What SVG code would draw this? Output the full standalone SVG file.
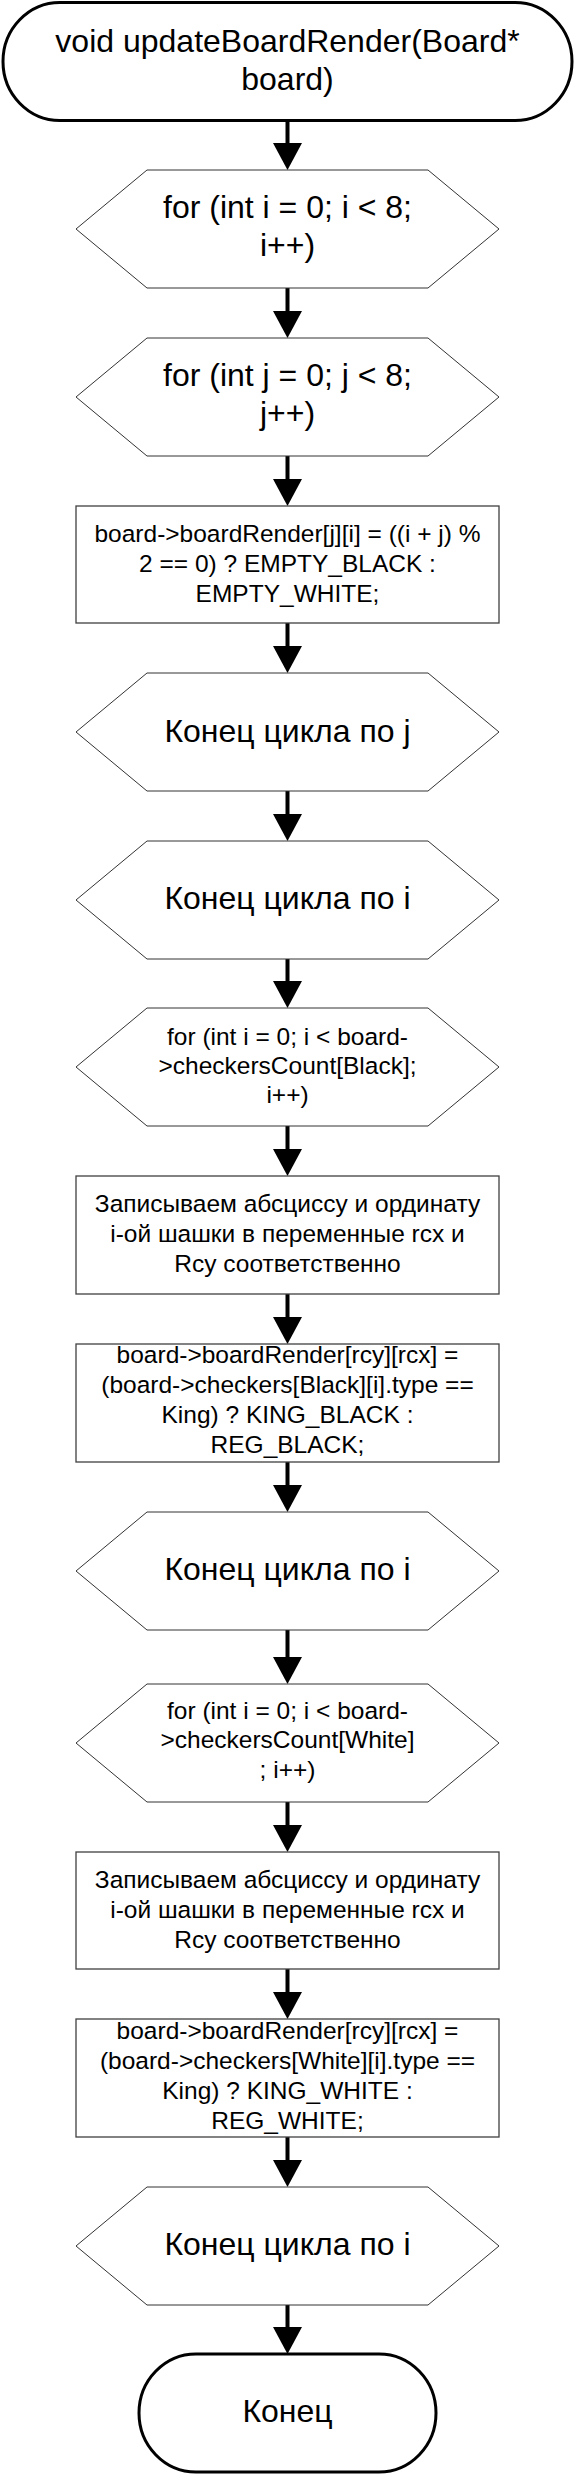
<svg xmlns="http://www.w3.org/2000/svg" width="575" height="2475" viewBox="0 0 575 2475">
<style>
.term{fill:#fff;stroke:#000;stroke-width:3}
.hex{fill:#fff;stroke:#333;stroke-width:1}
.box{fill:#fff;stroke:#404040;stroke-width:1.3}
text{font-family:"Liberation Sans",Arial,sans-serif;fill:#000;text-anchor:middle}
.big{font-size:32px}
.sm{font-size:24.5px}
.arr{stroke:#000;stroke-width:4;fill:none;marker-end:url(#ah)}
</style>
<defs>
<marker id="ah" markerUnits="userSpaceOnUse" viewBox="0 0 27 29" markerWidth="27" markerHeight="29" refX="2" refY="14.5" orient="auto">
<path d="M0,0 L27,14.5 L0,29 z" fill="#000"/>
</marker>
</defs>
<rect width="575" height="2475" fill="#fff"/>
<g id="connectors">
<path class="arr" d="M287.5,121 V145"/>
<path class="arr" d="M287.5,288 V313"/>
<path class="arr" d="M287.5,456 V481"/>
<path class="arr" d="M287.5,623 V648"/>
<path class="arr" d="M287.5,791 V816"/>
<path class="arr" d="M287.5,959 V983"/>
<path class="arr" d="M287.5,1126 V1151"/>
<path class="arr" d="M287.5,1294 V1319"/>
<path class="arr" d="M287.5,1462 V1487"/>
<path class="arr" d="M287.5,1630 V1659"/>
<path class="arr" d="M287.5,1802 V1827"/>
<path class="arr" d="M287.5,1969 V1994"/>
<path class="arr" d="M287.5,2137 V2162"/>
<path class="arr" d="M287.5,2305 V2329"/>
</g>
<g id="n0">
<rect class="term" x="3" y="2.5" width="569" height="118" rx="57" ry="59"/>
<text class="big" x="287.5" y="52">void updateBoardRender(Board*</text>
<text class="big" x="287.5" y="90">board)</text>
</g>
<g id="n1">
<polygon class="hex" points="76,229 147,170 428,170 499,229 428,288 147,288"/>
<text class="big" x="287.5" y="218">for (int i = 0; i &lt; 8;</text>
<text class="big" x="287.5" y="256">i++)</text>
</g>
<g id="n2">
<polygon class="hex" points="76,397 147,338 428,338 499,397 428,456 147,456"/>
<text class="big" x="287.5" y="386">for (int j = 0; j &lt; 8;</text>
<text class="big" x="287.5" y="424">j++)</text>
</g>
<g id="n3">
<rect class="box" x="76" y="506" width="423" height="117"/>
<text class="sm" x="287.5" y="542">board-&gt;boardRender[j][i] = ((i + j) %</text>
<text class="sm" x="287.5" y="572">2 == 0) ? EMPTY_BLACK :</text>
<text class="sm" x="287.5" y="602">EMPTY_WHITE;</text>
</g>
<g id="n4">
<polygon class="hex" points="76,732 147,673 428,673 499,732 428,791 147,791"/>
<text class="big" x="287.5" y="742">Конец цикла по j</text>
</g>
<g id="n5">
<polygon class="hex" points="76,900 147,841 428,841 499,900 428,959 147,959"/>
<text class="big" x="287.5" y="909">Конец цикла по i</text>
</g>
<g id="n6">
<polygon class="hex" points="76,1067 147,1008 428,1008 499,1067 428,1126 147,1126"/>
<text class="sm" x="287.5" y="1045">for (int i = 0; i &lt; board-</text>
<text class="sm" x="287.5" y="1074">&gt;checkersCount[Black];</text>
<text class="sm" x="287.5" y="1103">i++)</text>
</g>
<g id="n7">
<rect class="box" x="76" y="1176" width="423" height="118"/>
<text class="sm" x="287.5" y="1212">Записываем абсциссу и ординату</text>
<text class="sm" x="287.5" y="1242">i-ой шашки в переменные rcx и</text>
<text class="sm" x="287.5" y="1272">Rcy соответственно</text>
</g>
<g id="n8">
<rect class="box" x="76" y="1344" width="423" height="118"/>
<text class="sm" x="287.5" y="1363">board-&gt;boardRender[rcy][rcx] =</text>
<text class="sm" x="287.5" y="1393">(board-&gt;checkers[Black][i].type ==</text>
<text class="sm" x="287.5" y="1423">King) ? KING_BLACK :</text>
<text class="sm" x="287.5" y="1453">REG_BLACK;</text>
</g>
<g id="n9">
<polygon class="hex" points="76,1571 147,1512 428,1512 499,1571 428,1630 147,1630"/>
<text class="big" x="287.5" y="1580">Конец цикла по i</text>
</g>
<g id="n10">
<polygon class="hex" points="76,1743 147,1684 428,1684 499,1743 428,1802 147,1802"/>
<text class="sm" x="287.5" y="1719">for (int i = 0; i &lt; board-</text>
<text class="sm" x="287.5" y="1748">&gt;checkersCount[White]</text>
<text class="sm" x="287.5" y="1778">; i++)</text>
</g>
<g id="n11">
<rect class="box" x="76" y="1852" width="423" height="117"/>
<text class="sm" x="287.5" y="1888">Записываем абсциссу и ординату</text>
<text class="sm" x="287.5" y="1918">i-ой шашки в переменные rcx и</text>
<text class="sm" x="287.5" y="1948">Rcy соответственно</text>
</g>
<g id="n12">
<rect class="box" x="76" y="2019" width="423" height="118"/>
<text class="sm" x="287.5" y="2039">board-&gt;boardRender[rcy][rcx] =</text>
<text class="sm" x="287.5" y="2069">(board-&gt;checkers[White][i].type ==</text>
<text class="sm" x="287.5" y="2099">King) ? KING_WHITE :</text>
<text class="sm" x="287.5" y="2129">REG_WHITE;</text>
</g>
<g id="n13">
<polygon class="hex" points="76,2246 147,2187 428,2187 499,2246 428,2305 147,2305"/>
<text class="big" x="287.5" y="2255">Конец цикла по i</text>
</g>
<g id="n14">
<rect class="term" x="139" y="2354" width="297" height="118" rx="57" ry="59"/>
<text class="big" x="287.5" y="2422">Конец</text>
</g>
</svg>
